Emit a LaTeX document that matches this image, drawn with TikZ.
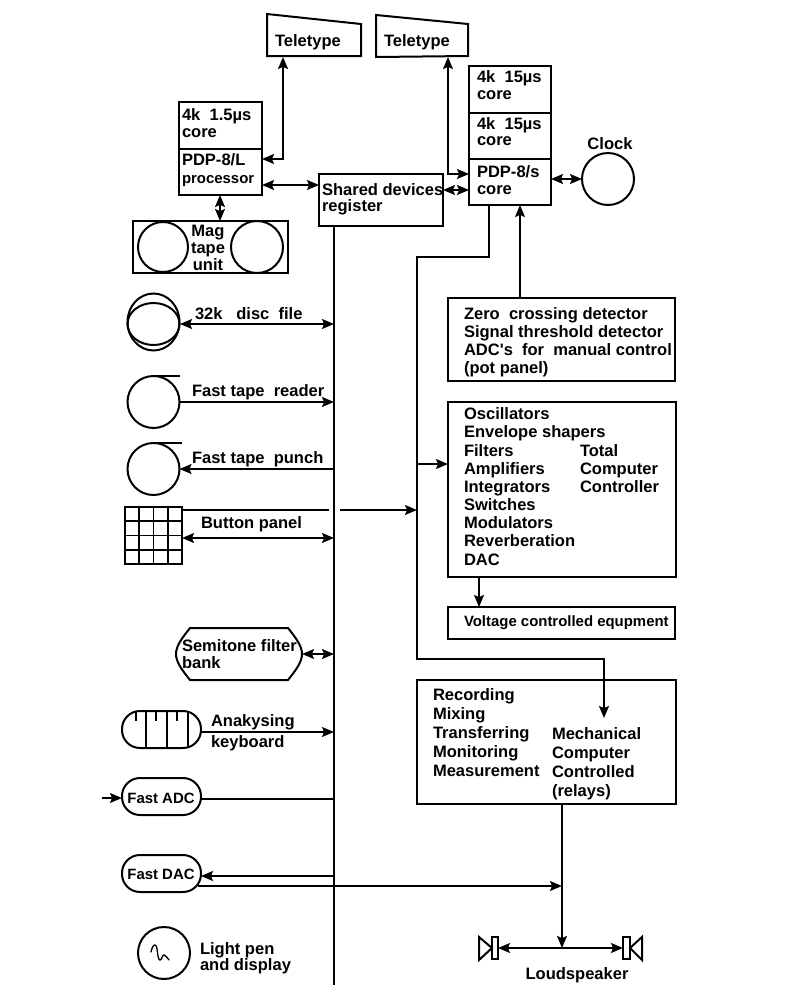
\documentclass[tikz,border=0pt]{standalone}
\usepackage{fontspec}
\setmainfont{Liberation Sans}
\usetikzlibrary{arrows.meta,calc}
\tikzset{
  ln/.style={line width=1.5pt,draw=black,line join=miter},
  blk/.style={ln,rectangle,inner sep=0pt,outer sep=0pt},
  rnd/.style={ln,circle,inner sep=0pt,outer sep=0pt},
  pill/.style={ln,rectangle,inner sep=0pt,outer sep=0pt,rounded corners=13.5pt},
  lbl/.style={anchor=base west,inner sep=0pt,outer sep=0pt,yshift=-4.4pt,font=\fontsize{12.4}{14}\selectfont\bfseries,text=black},
  lbs/.style={lbl,font=\fontsize{11.2}{14}\selectfont\bfseries},
  ctr/.style={lbl,anchor=base},
  tip/.style={-{Stealth[length=9pt,width=7.4pt,inset=1.6pt]},ln},
  tipb/.style={{Stealth[length=9pt,width=7.4pt,inset=1.6pt]}-{Stealth[length=9pt,width=7.4pt,inset=1.6pt]},ln},
  plain/.style={ln}
}
\newcommand{\pxbox}[6][blk]{%
  \pgfmathsetmacro{\pw}{(#5-#3)*0.75}\pgfmathsetmacro{\ph}{(#6-#4)*0.75}%
  \node[#1,minimum width=\pw pt,minimum height=\ph pt] (#2) at ({(#3+#5)/2},{(#4+#6)/2}) {};}
\newcommand{\pxcirc}[4]{%
  \pgfmathsetmacro{\pw}{2*#4*0.75}%
  \node[rnd,minimum size=\pw pt] (#1) at (#2,#3) {};}
\begin{document}
\begin{tikzpicture}[x=0.75pt,y=-0.75pt]
\useasboundingbox (0,0) rectangle (800,1000);
% teletypes
\draw[ln] (267,14) -- (361,24) -- (361,56) -- (267,56) -- cycle;
\coordinate (tty1) at (283,57);
\node[lbl] (t1) at (275,41) {Teletype};
\draw[ln] (376,15) -- (468,24) -- (468,56) -- (376,57) -- cycle;
\coordinate (tty2) at (448,57);
\node[lbl] (t2) at (384,41) {Teletype};
% PDP-8/L
\pxbox{coreL}{179}{102}{262}{149}
\pxbox{pdpL}{179}{149}{262}{195}
\node[lbl] (coreLa) at (182,115) {4k\ \ 1.5µs};
\node[lbl] (coreLb) at (182,132) {core};
\node[lbl] (pdpLa) at (182,160) {PDP-8/L};
\node[lbs] (pdpLb) at (182,178) {processor};
% mag tape
\pxbox{mag}{133}{221}{288}{273}
\pxcirc{magA}{163}{247}{25}
\pxcirc{magB}{257}{247}{26}
\node[ctr] (magt1) at (208,231) {Mag};
\node[ctr] (magt2) at (208,248) {tape};
\node[ctr] (magt3) at (208,265) {unit};
% shared
\pxbox{shared}{319}{174}{443}{226}
\node[lbl] (sh1) at (322,190) {Shared devices};
\node[lbl] (sh2) at (322,206) {register};
% PDP-8/s
\pxbox{coreA}{469}{66}{551}{113}
\pxbox{coreB}{469}{113}{551}{159}
\pxbox{pdpS}{469}{159}{551}{205}
\node[lbl] (ca1) at (477,77) {4k\ \ 15µs};
\node[lbl] (ca2) at (477,94) {core};
\node[lbl] (cb1) at (477,124) {4k\ \ 15µs};
\node[lbl] (cb2) at (477,140) {core};
\node[lbl] (ps1) at (477,172) {PDP-8/s};
\node[lbl] (ps2) at (477,189) {core};
% clock
\pxcirc{clock}{608}{179}{26}
\node[ctr] (clk) at (610,144) {Clock};
% bus
\coordinate (busend) at (334,985);
\draw[plain] (busend |- shared.south) -- (busend);
% upper connectors
\draw[tipb] (pdpL.east |- 0,159) -- (tty1 |- 0,159) -- (tty1);
\draw[tipb] (pdpL.east |- 0,185) -- (shared.west |- 0,185);
\draw[tipb] (pdpL.south -| 220,0) -- (mag.north -| 220,0);
\draw[tipb] (tty2) -- (tty2 |- 0,174) -- (pdpS.west |- 0,174);
\draw[tipb] (shared.east |- 0,190) -- (pdpS.west |- 0,190);
\draw[tipb] (pdpS.east |- 0,179) -- (clock.west);
% detectors
\pxbox{zero}{448}{298}{675}{381}
\node[lbl] (z1) at (464,314) {Zero\ \ crossing detector};
\node[lbl] (z2) at (464,332) {Signal threshold detector};
\node[lbl] (z3) at (464,350) {ADC\textquotesingle s\ \ for\ \ manual control};
\node[lbl] (z4) at (464,368) {(pot panel)};
\draw[tip] (zero.north -| 520,0) -- (pdpS.south -| 520,0);
% oscillators
\pxbox{osc}{448}{402}{676}{577}
\node[lbl] (o1) at (464,414) {Oscillators};
\node[lbl] (o2) at (464,432) {Envelope shapers};
\node[lbl] (o3) at (464,451) {Filters};
\node[lbl] (o4) at (464,469) {Amplifiers};
\node[lbl] (o5) at (464,487) {Integrators};
\node[lbl] (o6) at (464,505) {Switches};
\node[lbl] (o7) at (464,523) {Modulators};
\node[lbl] (o8) at (464,541) {Reverberation};
\node[lbl] (o9) at (464,560) {DAC};
\node[lbl] (o10) at (580,451) {Total};
\node[lbl] (o11) at (580,469) {Computer};
\node[lbl] (o12) at (580,487) {Controller};
% voltage
\pxbox{volt}{448}{607}{675}{639}
\node[lbs] (v1) at (464,621) {Voltage controlled equpment};
\draw[tip] (osc.south -| 479,0) -- (volt.north -| 479,0);
% recording
\pxbox{rec}{417}{680}{676}{804}
\node[lbl] (r1) at (433,695) {Recording};
\node[lbl] (r2) at (433,714) {Mixing};
\node[lbl] (r3) at (433,733) {Transferring};
\node[lbl] (r4) at (433,752) {Monitoring};
\node[lbl] (r5) at (433,771) {Measurement};
\node[lbl] (r6) at (552,734) {Mechanical};
\node[lbl] (r7) at (552,753) {Computer};
\node[lbl] (r8) at (552,772) {Controlled};
\node[lbl] (r9) at (552,791) {(relays)};
% main control line
\coordinate (mechin) at (604,718);
\draw[tip] (pdpS.south -| 489,0) -- (489,257) -- (417,257) -- (417,659) -- (604,659) -- (mechin);
\draw[tip] (417,464) -- (osc.west |- 0,464);
% disc
\draw[ln] (153.5,322) ellipse [x radius=26,y radius=28.5];
\draw[ln] (153.5,324) ellipse [x radius=26,y radius=21];
\coordinate (disc) at (180,324);
\node[lbl] (d1) at (195,314) {32k\ \ \ disc\ \ file};
\draw[tipb] (disc) -- (busend |- disc);
% reader
\pxcirc{rdr}{153.5}{402}{26}
\draw[ln] (rdr.north) -- (180,376);
\node[lbl] (rd1) at (192,391) {Fast tape\ \ reader};
\draw[tip] (rdr.east) -- (busend |- rdr.east);
% punch
\pxcirc{pch}{153.5}{469}{26}
\draw[ln] (pch.north) -- (182,443);
\node[lbl] (pc1) at (192,458) {Fast tape\ \ punch};
\draw[tip] (busend |- pch.east) -- (pch.east);
% button panel
\pxbox{btn}{125}{507}{182}{564}
\foreach \gx in {139.25,153.5,167.75} {\draw[line width=1.2pt] (\gx,507) -- (\gx,564);}
\foreach \gy in {521.25,535.5,549.75} {\draw[line width=1.2pt] (125,\gy) -- (182,\gy);}
\node[lbl] (bt1) at (201,523) {Button panel};
\draw[plain] (btn.east |- 0,510) -- (329,510);
\coordinate (gap) at (340,510);
\draw[tip] (gap) -- (417,510);
\draw[tipb] (btn.east |- 0,538) -- (busend |- 0,538);
% semitone
\draw[ln] (190,628) -- (288,628) .. controls (296,638) and (302,646) .. (302,654) .. controls (302,662) and (296,670) .. (288,680) -- (190,680) .. controls (182,670) and (176,662) .. (176,654) .. controls (176,646) and (182,638) .. (190,628) -- cycle;
\coordinate (semi) at (302,654);
\node[lbl] (s1) at (182,646) {Semitone filter};
\node[lbl] (s2) at (182,663) {bank};
\draw[tipb] (semi) -- (busend |- semi);
% keyboard
\pxbox[pill]{kbd}{122}{711}{201}{748}
\draw[ln] (146,711) -- (146,748) (167,711) -- (167,748) (188,711) -- (188,748);
\draw[ln] (136,711) -- (136,721) (156,711) -- (156,721) (177,711) -- (177,721);
\node[lbl] (k1) at (211,721) {Anakysing};
\node[lbl] (k2) at (211,742) {keyboard};
\draw[tip] (kbd.east |- 0,732) -- (busend |- 0,732);
% ADC
\pxbox[pill]{adc}{122}{778}{201}{815}
\node[lbs,anchor=base] (ad) at (161,798) {Fast ADC};
\coordinate (adcin) at (102,798);
\draw[tip] (adcin) -- (adc.west |- adcin);
\draw[plain] (adc.east |- 0,799) -- (busend |- 0,799);
% DAC
\pxbox[pill]{dac}{122}{855}{201}{892}
\node[lbs,anchor=base] (da) at (161,874) {Fast DAC};
\draw[tip] (busend |- 0,876) -- (dac.east |- 0,876);
\coordinate (dacout) at (198,886);
\draw[tip] (dacout) -- (562,886);
% light pen
\pxcirc{pen}{164}{953}{26}
\draw[line width=1pt,line cap=round] (151,952) .. controls (152,948) and (153,945) .. (155,945) .. controls (158,945) and (157,960) .. (160,960) .. controls (162,960) and (162,955) .. (164,955) .. controls (166,955) and (167,958) .. (169,960);
\node[lbl] (p1) at (200,949) {Light pen};
\node[lbl] (p2) at (200,965) {and display};
% loudspeakers
\pxbox{spkL}{492}{937}{498}{959}
\draw[ln] (492,948) -- (479,937) -- (479,960) -- cycle;
\pxbox{spkR}{623}{937}{630}{959}
\draw[ln] (630,948) -- (642,937) -- (642,960) -- cycle;
\draw[tipb] (spkL.east) -- (spkR.west);
\coordinate (spkjoin) at (562,948);
\draw[tip] (rec.south -| spkjoin) -- (spkjoin);
\node[ctr] (ls) at (577,974) {Loudspeaker};
\end{tikzpicture}
\end{document}
